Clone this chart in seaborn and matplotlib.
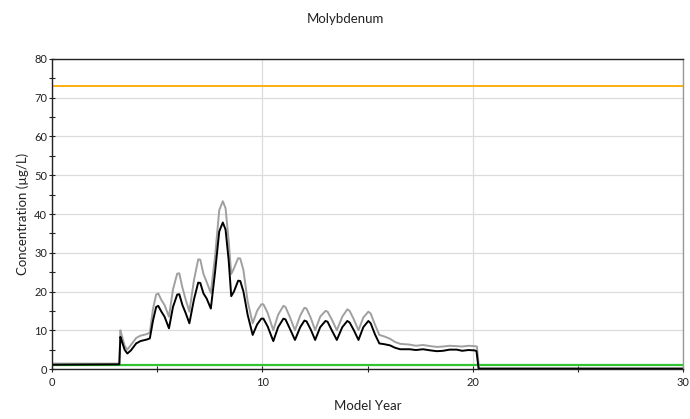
import matplotlib
matplotlib.use("Agg")
import matplotlib.pyplot as plt
from matplotlib.ticker import MultipleLocator
import seaborn as sns
import numpy as np

title = "Molybdenum"
x_label = "Model Year"
y_label = "Concentration (µg/L)"

t_black = [0.0, 3.2, 3.25, 3.3, 3.45, 3.58, 3.75, 4.0, 4.2, 4.5, 4.65, 4.8, 4.95, 5.05, 5.2, 5.35,
           5.56, 5.75, 5.95, 6.05, 6.2, 6.35, 6.53, 6.75, 6.95, 7.05, 7.2, 7.35, 7.55, 7.75, 7.95,
           8.12, 8.25, 8.4, 8.52, 8.65, 8.85, 8.95, 9.1, 9.3, 9.54, 9.75, 9.95, 10.05, 10.25, 10.52,
           10.75, 11.0, 11.1, 11.3, 11.55, 11.8, 12.0, 12.1, 12.3, 12.51, 12.75, 13.0, 13.1, 13.3,
           13.54, 13.8, 14.04, 14.15, 14.35, 14.57, 14.8, 15.04, 15.15, 15.35, 15.56, 15.8, 16.07,
           16.3, 16.55, 17.0, 17.3, 17.64, 18.0, 18.3, 18.59, 18.9, 19.24, 19.5, 19.8, 20.1, 20.18,
           20.28, 30.0]
v_black = [1.1, 1.2, 8.3, 7.5, 5.0, 4.0, 4.8, 6.6, 7.2, 7.6, 7.9, 12.5, 16.0, 16.3, 14.8, 13.5,
           10.5, 16.0, 19.2, 19.3, 16.5, 14.5, 11.8, 18.0, 22.3, 22.2, 19.5, 18.2, 15.6, 25.0, 35.5,
           37.8, 36.0, 28.0, 18.8, 20.0, 22.8, 22.7, 20.0, 14.0, 8.8, 11.5, 13.0, 13.0, 11.0, 7.2,
           10.8, 13.0, 12.8, 10.5, 7.5, 10.8, 12.5, 12.3, 10.2, 7.5, 10.8, 12.4, 12.2, 10.0,
           7.5, 10.8, 12.4, 12.0, 10.0, 7.5, 10.8, 12.4, 11.8, 9.0, 6.6, 6.4, 6.1,
           5.5, 5.1, 5.1, 4.9, 5.1, 4.8, 4.6, 4.7, 5.0, 5.0, 4.7, 4.9, 4.8, 4.6,
           0.1, 0.1]

t_grey = [0.0, 3.2, 3.25, 3.3, 3.45, 3.58, 3.75, 4.0, 4.2, 4.5, 4.65, 4.8, 4.95, 5.05, 5.2, 5.35,
          5.56, 5.75, 5.95, 6.05, 6.2, 6.35, 6.53, 6.75, 6.95, 7.05, 7.2, 7.35, 7.55, 7.75, 7.95,
          8.12, 8.25, 8.4, 8.52, 8.65, 8.85, 8.95, 9.1, 9.3, 9.54, 9.75, 9.95, 10.05, 10.25, 10.52,
          10.75, 11.0, 11.1, 11.3, 11.55, 11.8, 12.0, 12.1, 12.3, 12.51, 12.75, 13.0, 13.1, 13.3,
          13.54, 13.8, 14.04, 14.15, 14.35, 14.57, 14.8, 15.04, 15.15, 15.35, 15.56, 15.8, 16.07,
          16.3, 16.55, 17.0, 17.3, 17.64, 18.0, 18.3, 18.59, 18.9, 19.24, 19.5, 19.8, 20.1, 20.2,
          20.3, 30.0]
v_grey = [1.4, 1.4, 10.0, 9.0, 6.0, 5.0, 6.2, 8.0, 8.6, 9.0, 9.4, 15.5, 19.2, 19.5, 17.8, 16.5,
          13.5, 20.5, 24.6, 24.7, 21.0, 18.0, 14.8, 23.0, 28.3, 28.2, 24.5, 22.5, 19.6, 29.0, 41.0,
          43.3, 41.5, 33.0, 24.5, 26.0, 28.6, 28.5, 25.5, 17.5, 11.8, 15.0, 16.7, 16.7, 14.5, 10.0,
          14.0, 16.3, 16.0, 13.5, 10.0, 13.8, 15.8, 15.6, 13.2, 10.0, 13.5, 15.0, 14.8, 12.8,
          10.0, 13.5, 15.4, 15.0, 12.8, 10.0, 13.3, 14.8, 14.3, 11.5, 8.8, 8.4, 7.8,
          7.0, 6.5, 6.3, 6.0, 6.2, 5.9, 5.7, 5.8, 6.0, 5.9, 5.8, 6.0, 5.9, 5.8,
          0.1, 0.1]

t_limits = [0.0, 30.0]
v_orange = [73.0, 73.0]
v_green = [1.0, 1.0]

sns.set_theme(style="white")
plt.rcParams['font.family'] = ['Lato', 'DejaVu Sans']

fig = plt.figure(figsize=(6.9, 4.19), dpi=100)
ax = fig.add_axes([0.0754, 0.1193, 0.9145, 0.7399])

sns.lineplot(x=t_limits, y=v_orange, ax=ax, color="#FFAA00", linewidth=1.3)
sns.lineplot(x=t_grey, y=v_grey, ax=ax, color="#a0a0a0", linewidth=1.4)
sns.lineplot(x=t_limits, y=v_green, ax=ax, color="#33C433", linewidth=1.6)
sns.lineplot(x=t_black, y=v_black, ax=ax, color="black", linewidth=1.4)

ax.set_xlim(0, 30)
ax.set_ylim(0, 80)
ax.xaxis.set_major_locator(MultipleLocator(10))
ax.xaxis.set_minor_locator(MultipleLocator(5))
ax.yaxis.set_major_locator(MultipleLocator(10))
ax.yaxis.set_minor_locator(MultipleLocator(5))
ax.grid(True, which="major", color="#dcdcdc", linewidth=0.9)
ax.set_axisbelow(True)

ax.tick_params(which="both", direction="inout", colors="#222222", labelsize=8,
               bottom=True, left=True)
ax.tick_params(which="major", length=5, width=0.8)
ax.tick_params(which="minor", length=4, width=0.8)
ax.tick_params(axis="x", pad=3)
ax.tick_params(axis="y", pad=1)

for side in ["left", "bottom", "top"]:
    ax.spines[side].set_color("#222222")
    ax.spines[side].set_linewidth(1.0)
ax.spines["right"].set_color("#999999")
ax.spines["right"].set_linewidth(1.0)

ax.set_xlabel(x_label, fontsize=9.5, color="#222222", labelpad=9)
ax.set_ylabel(y_label, fontsize=9.5, color="#222222", labelpad=4)
fig.text(0.5, 0.955, title, ha="center", va="center", fontsize=9.5, color="#222222")

fig.savefig("out.png", dpi=100)
